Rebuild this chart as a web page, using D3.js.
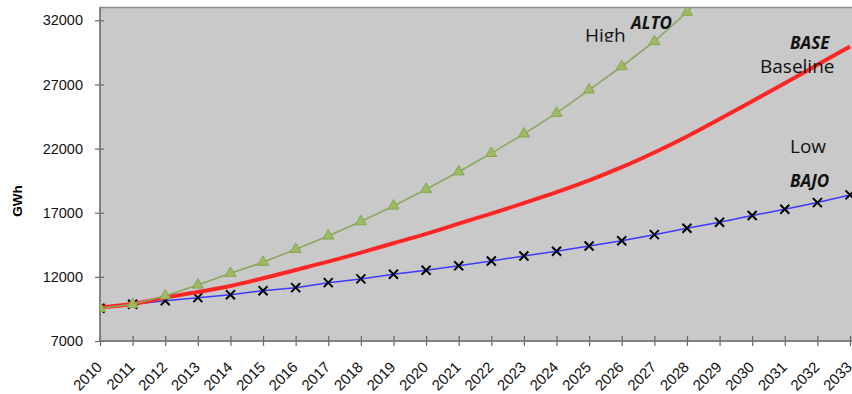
<!DOCTYPE html>
<html>
<head>
<meta charset="utf-8">
<script src="https://cdn.jsdelivr.net/npm/d3@7"></script>
<style>
  body { margin: 0; background: #fff; }
  svg { display: block; }
</style>
</head>
<body>
<svg id="chart" width="852" height="394"></svg>
<script>
(() => {

// data
const years = ['2010', '2011', '2012', '2013', '2014', '2015', '2016', '2017', '2018', '2019', '2020', '2021',
    '2022', '2023', '2024', '2025', '2026', '2027', '2028', '2029', '2030', '2031', '2032', '2033'];

const alto_values = [9550, 9860, 10530, 11370, 12280, 13140, 14150, 15190, 16310, 17530, 18830, 20200,
    21630, 23150, 24760, 26580, 28400, 30350, 32640, 35100];
const base_values = [9630, 9890, 10380, 10820, 11290, 11890, 12540, 13190, 13890, 14620, 15350, 16150,
    16930, 17750, 18600, 19520, 20550, 21700, 22950, 24300, 25700, 27100, 28530, 29960];
const bajo_values = [9550, 9860, 10140, 10380, 10610, 10920, 11160, 11550, 11840, 12200, 12510, 12870,
    13240, 13630, 14000, 14410, 14820, 15290, 15790, 16260, 16780, 17270, 17790, 18390];

const y_ticks = [7000, 12000, 17000, 22000, 27000, 32000];
const y_domain = [7000, 33000];

// chart parameters
const left = 100;
const right = 850;
const plot_right = 870;
const top_y = 7.5;
const bottom_y = 341;

const svg = d3.select('#chart');

let x_scale = d3.scalePoint()
    .domain(years)
    .range([left, right]);

let y_scale = d3.scaleLinear()
    .domain(y_domain)
    .range([bottom_y, top_y]);

// plot background
svg.append('rect')
    .attr('x', left)
    .attr('y', top_y)
    .attr('width', plot_right - left)
    .attr('height', bottom_y - top_y)
    .attr('fill', '#c9c9c9')
    .attr('stroke', '#8c8c8c')
    .attr('stroke-width', 1.5);

svg.append('defs').append('clipPath')
    .attr('id', 'plot_clip')
    .append('rect')
    .attr('x', left)
    .attr('y', top_y + 0.8)
    .attr('width', plot_right - left)
    .attr('height', bottom_y - top_y);

svg.select('defs').append('clipPath')
    .attr('id', 'high_clip')
    .append('rect')
    .attr('x', 560)
    .attr('y', 0)
    .attr('width', 80)
    .attr('height', 41.8);

// y axis
let y_axis = d3.axisLeft(y_scale)
    .tickValues(y_ticks)
    .tickFormat(d3.format('d'))
    .tickSize(5)
    .tickPadding(12);

let y_g = svg.append('g')
    .attr('transform', `translate(${left}, 0)`)
    .call(y_axis);
y_g.select('.domain').remove();
y_g.selectAll('line').attr('x1', 4).attr('stroke', '#666').attr('stroke-width', 1.2);
y_g.selectAll('text')
    .style('font-family', '"Liberation Sans", Arial, sans-serif')
    .style('font-size', '14.5px')
    .attr('fill', '#111');

// x axis
let x_axis = d3.axisBottom(x_scale)
    .tickSize(5)
    .tickFormat('');

let x_g = svg.append('g')
    .attr('transform', `translate(0, ${bottom_y})`)
    .call(x_axis);
x_g.select('.domain').remove();
x_g.selectAll('line').attr('y1', -5).attr('stroke', '#666').attr('stroke-width', 1.2);

svg.append('g')
    .selectAll('text')
    .data(years)
    .enter()
        .append('text')
        .attr('transform', (d) => `translate(${x_scale(d) + 3}, ${bottom_y + 27}) rotate(-45)`)
        .style('text-anchor', 'end')
        .style('font-family', '"Liberation Sans", Arial, sans-serif')
        .style('font-size', '15px')
        .attr('fill', '#111')
        .text((d) => d);

// axis lines
svg.append('line')
    .attr('x1', left).attr('x2', left)
    .attr('y1', top_y).attr('y2', bottom_y)
    .attr('stroke', '#777').attr('stroke-width', 1.5);
svg.append('line')
    .attr('x1', left).attr('x2', plot_right)
    .attr('y1', bottom_y).attr('y2', bottom_y)
    .attr('stroke', '#777').attr('stroke-width', 1.5);

// y axis title
svg.append('text')
    .attr('transform', 'translate(22, 201) rotate(-90)')
    .style('text-anchor', 'middle')
    .style('font-family', '"Liberation Sans", Arial, sans-serif')
    .style('font-size', '13.5px')
    .style('font-weight', 'bold')
    .text('GWh');

// series
let plot = svg.append('g').attr('clip-path', 'url(#plot_clip)');

let line_for = (values, curve) => d3.line()
    .x((d, i) => x_scale(years[i]))
    .y((d) => y_scale(d))
    .curve(curve)(values);

// low scenario
plot.append('path')
    .attr('d', line_for(bajo_values, d3.curveLinear))
    .attr('fill', 'none')
    .attr('stroke', '#3b3bff')
    .attr('stroke-width', 1.5);

plot.append('g')
    .selectAll('path')
    .data(bajo_values)
    .enter()
        .append('path')
        .attr('transform', (d, i) => `translate(${x_scale(years[i])}, ${y_scale(d)})`)
        .attr('d', 'M-4.5,-4.5L4.5,4.5M-4.5,4.5L4.5,-4.5')
        .attr('stroke', '#000')
        .attr('stroke-width', 2)
        .attr('fill', 'none');

// baseline
plot.append('path')
    .attr('d', line_for(base_values, d3.curveCatmullRom))
    .attr('fill', 'none')
    .attr('stroke', '#ff2626')
    .attr('stroke-width', 4);

// high scenario
plot.append('path')
    .attr('d', line_for(alto_values, d3.curveLinear))
    .attr('fill', 'none')
    .attr('stroke', '#8aa85c')
    .attr('stroke-width', 1.6);

plot.append('g')
    .selectAll('path')
    .data(alto_values)
    .enter()
        .append('path')
        .attr('transform', (d, i) => `translate(${x_scale(years[i])}, ${y_scale(d)})`)
        .attr('d', d3.symbol().type(d3.symbolTriangle).size(52))
        .attr('fill', '#9dbb61')
        .attr('stroke', '#86a553')
        .attr('stroke-width', 1);

// annotations
const label_font = '"Open Sans", "Noto Sans", sans-serif';

svg.append('text')
    .attr('x', 585).attr('y', 41.5)
    .attr('clip-path', 'url(#high_clip)')
    .style('font-family', label_font)
    .style('font-size', '19px')
    .attr('fill', '#111')
    .text('High');

let labels = [
    {text: 'ALTO', x: 631, y: 29.3, bold: true},
    {text: 'BASE', x: 790, y: 49.3, bold: true},
    {text: 'Baseline', x: 760, y: 73.3, bold: false},
    {text: 'Low', x: 790, y: 153.3, bold: false},
    {text: 'BAJO', x: 790, y: 187.3, bold: true}
];

svg.append('g')
    .selectAll('text')
    .data(labels)
    .enter()
        .append('text')
        .attr('x', (d) => d.x)
        .attr('y', (d) => d.y)
        .style('font-family', label_font)
        .style('font-size', (d) => d.bold ? '17px' : '19px')
        .style('font-weight', (d) => d.bold ? 'bold' : 'normal')
        .style('font-style', (d) => d.bold ? 'italic' : 'normal')
        .attr('fill', '#111')
        .text((d) => d.text);

})();
</script>
</body>
</html>
